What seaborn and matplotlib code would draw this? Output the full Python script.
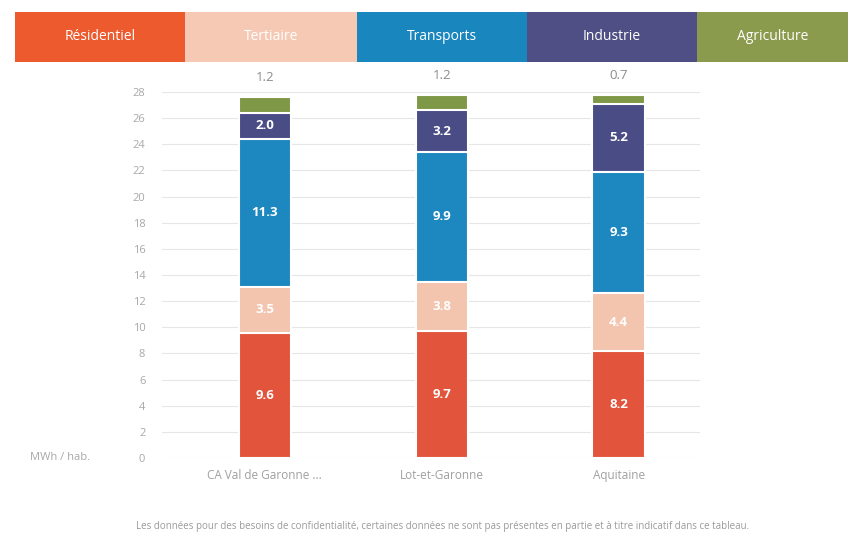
import numpy as np
import pandas as pd
import matplotlib
matplotlib.use("Agg")
import matplotlib.pyplot as plt
from matplotlib.patches import Rectangle
import seaborn as sns

# Energy consumption per inhabitant by sector (MWh / hab.)
territoires = ["CA Val de Garonne ...", "Lot-et-Garonne", "Aquitaine"]
secteurs = ["Résidentiel", "Tertiaire", "Transports", "Industrie", "Agriculture"]
residentiel = [9.6, 9.7, 8.2]
tertiaire = [3.5, 3.8, 4.4]
transports = [11.3, 9.9, 9.3]
industrie = [2.0, 3.2, 5.2]
agriculture = [1.2, 1.2, 0.7]
y_ticks = list(range(0, 30, 2))
unite = "MWh / hab."
note = ("Les données pour des besoins de confidentialité, certaines données ne sont pas "
        "présentes en partie et à titre indicatif dans ce tableau.")

couleurs_legende = ["#EC5A2E", "#F5C9B3", "#1A86BE", "#4F4F86", "#8A9B4E"]
couleurs_barres = ["#E2553C", "#F3C4AE", "#1D87BF", "#4A4C86", "#7F9847"]

series = [residentiel, tertiaire, transports, industrie, agriculture]
df = pd.DataFrame({s: v for s, v in zip(secteurs, series)}, index=territoires)
cumul = df.cumsum(axis=1)

sns.set_theme(style="white")
plt.rcParams["font.family"] = ["Open Sans", "DejaVu Sans"]

fig = plt.figure(figsize=(8.57, 5.36), dpi=100)
fig.patch.set_facecolor("white")
ax = fig.add_axes([162 / 857, 1 - 458 / 536, (700 - 162) / 857, (458 - 92) / 536])

# Stacked bars: draw cumulative totals from the top segment downwards
for i in range(len(secteurs) - 1, -1, -1):
    tmp = pd.DataFrame({"territoire": territoires, "valeur": cumul.iloc[:, i].values})
    sns.barplot(data=tmp, x="territoire", y="valeur", color=couleurs_barres[i],
                width=0.295, edgecolor="white", linewidth=1.5, saturation=1,
                order=territoires, ax=ax, zorder=3)

# Segment labels
for j, terr in enumerate(territoires):
    for i, s in enumerate(secteurs):
        v = df.loc[terr, s]
        base = cumul.iloc[j, i] - v
        if s == "Agriculture":
            ax.text(j, cumul.iloc[j, i] + 1.5, f"{v:.1f}", ha="center", va="center",
                    color="#8c8c8c", fontsize=9.5, clip_on=False)
        else:
            ax.text(j, base + v / 2, f"{v:.1f}", ha="center", va="center",
                    color="white", fontsize=9.5, fontweight="bold", zorder=5)

ax.set_xlim(-0.58, 2.46)
ax.set_ylim(0, 28)
ax.set_yticks(y_ticks)
ax.set_yticklabels([str(t) for t in y_ticks], color="#a8a8a8", fontsize=8)
ax.tick_params(axis="y", length=0, pad=12)
ax.tick_params(axis="x", length=0, pad=8, labelsize=8.5, labelcolor="#a0a0a0")
ax.set_xlabel("")
ax.set_ylabel("")
ax.grid(axis="y", color="#e6e6e6", linewidth=0.8, zorder=0)
for sp in ax.spines.values():
    sp.set_visible(False)

fig.text(60 / 857, 1 - 458 / 536, unite, ha="center", va="center",
         color="#a8a8a8", fontsize=8)

# Colour-block legend across the top
bords = [15, 185, 357, 527, 697, 848]
for k, s in enumerate(secteurs):
    x0, x1 = bords[k], bords[k + 1]
    fig.patches.append(Rectangle((x0 / 857, 1 - 62 / 536), (x1 - x0) / 857, 50 / 536,
                                 transform=fig.transFigure, facecolor=couleurs_legende[k],
                                 edgecolor="none", zorder=1))
    fig.text((x0 + x1) / 2 / 857, 1 - 37 / 536, s, ha="center", va="center",
             color="white", fontsize=10)

fig.text(0.517, 1 - 527 / 536, note, ha="center", va="center", color="#9a9a9a", fontsize=7)

fig.savefig("out.png", dpi=100)
